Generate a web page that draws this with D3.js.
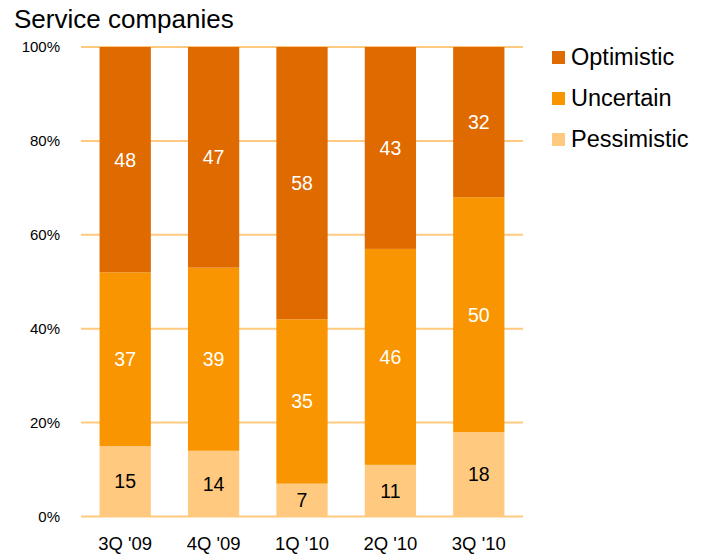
<!DOCTYPE html>
<html>
<head>
<meta charset="utf-8">
<script src="https://cdn.jsdelivr.net/npm/d3@7"></script>
<style>
  html, body { margin: 0; padding: 0; background: #fff; }
  svg { display: block; font-family: "Liberation Sans", Arial, sans-serif; }
</style>
</head>
<body>
<svg id="chart" width="708" height="554"></svg>
<script>
// Survey responses of service companies by quarter (percent of respondents)
const quarters = ["3Q '09", "4Q '09", "1Q '10", "2Q '10", "3Q '10"];
const pessimistic = [15, 14, 7, 11, 18];
const uncertain = [37, 39, 35, 46, 50];
const optimistic = [48, 47, 58, 43, 32];
const yTicks = [0, 20, 40, 60, 80, 100];

const seriesNames = ["Pessimistic", "Uncertain", "Optimistic"];
const seriesColors = { Pessimistic: "#FFC97F", Uncertain: "#F99500", Optimistic: "#DE6A00" };
const labelColors = { Pessimistic: "#000", Uncertain: "#fff", Optimistic: "#fff" };

const rows = quarters.map((q, i) => ({
  quarter: q,
  Pessimistic: pessimistic[i],
  Uncertain: uncertain[i],
  Optimistic: optimistic[i]
}));

const svg = d3.select("#chart");
const margin = { left: 81, right: 185, top: 47, bottom: 37.5 };
const W = 708, H = 554;

const x = d3.scaleBand()
  .domain(quarters)
  .range([margin.left, W - margin.right])
  .paddingInner(0.42)
  .paddingOuter(0.21);

const y = d3.scaleLinear()
  .domain([0, 100])
  .range([H - margin.bottom, margin.top]);

// Title
svg.append("text")
  .attr("x", 14).attr("y", 28)
  .attr("font-size", 26)
  .attr("fill", "#000")
  .text("Service companies");

// Horizontal gridlines
svg.append("g")
  .selectAll("line")
  .data(yTicks)
  .join("line")
  .attr("x1", margin.left).attr("x2", W - margin.right)
  .attr("y1", d => y(d)).attr("y2", d => y(d))
  .attr("stroke", "#FFC97F")
  .attr("stroke-width", 2);

// Y axis labels
const yAxis = d3.axisLeft(y).tickValues(yTicks).tickFormat(d => d + "%").tickSize(0).tickPadding(0);
svg.append("g")
  .attr("transform", `translate(${margin.left - 21},0)`)
  .call(yAxis)
  .call(g => g.select(".domain").remove())
  .call(g => g.selectAll("text").attr("font-size", 15).attr("fill", "#000")
    .attr("font-family", "Liberation Sans, Arial, sans-serif"));

// X axis labels
const xAxis = d3.axisBottom(x).tickSize(0).tickPadding(0);
svg.append("g")
  .attr("transform", `translate(0,550)`)
  .call(xAxis)
  .call(g => g.select(".domain").remove())
  .call(g => g.selectAll("text").attr("font-size", 18.5).attr("fill", "#000")
    .attr("dy", 0)
    .attr("font-family", "Liberation Sans, Arial, sans-serif"));

// Stacked bars
const stack = d3.stack().keys(seriesNames);
const layers = stack(rows);

const layerG = svg.append("g")
  .selectAll("g")
  .data(layers)
  .join("g")
  .attr("fill", d => seriesColors[d.key]);

layerG.selectAll("rect")
  .data(d => d)
  .join("rect")
  .attr("x", d => x(d.data.quarter))
  .attr("width", x.bandwidth())
  .attr("y", d => y(d[1]))
  .attr("height", d => y(d[0]) - y(d[1]));

// Value labels
const labelG = svg.append("g")
  .selectAll("g")
  .data(layers)
  .join("g")
  .attr("fill", d => labelColors[d.key]);

labelG.selectAll("text")
  .data(d => d.map(v => ({ v, key: d.key })))
  .join("text")
  .attr("x", d => x(d.v.data.quarter) + x.bandwidth() / 2)
  .attr("y", d => (y(d.v[0]) + y(d.v[1])) / 2)
  .attr("dy", "0.36em")
  .attr("text-anchor", "middle")
  .attr("font-size", 19.5)
  .text(d => d.v.data[d.key]);

// Legend
const legendItems = ["Optimistic", "Uncertain", "Pessimistic"];
const legend = svg.append("g")
  .selectAll("g")
  .data(legendItems)
  .join("g")
  .attr("transform", (d, i) => `translate(552,${51 + i * 41})`);

legend.append("rect")
  .attr("width", 13).attr("height", 13)
  .attr("fill", d => seriesColors[d]);

legend.append("text")
  .attr("x", 19).attr("y", 14)
  .attr("font-size", 23.5)
  .attr("fill", "#000")
  .text(d => d);
</script>
</body>
</html>
